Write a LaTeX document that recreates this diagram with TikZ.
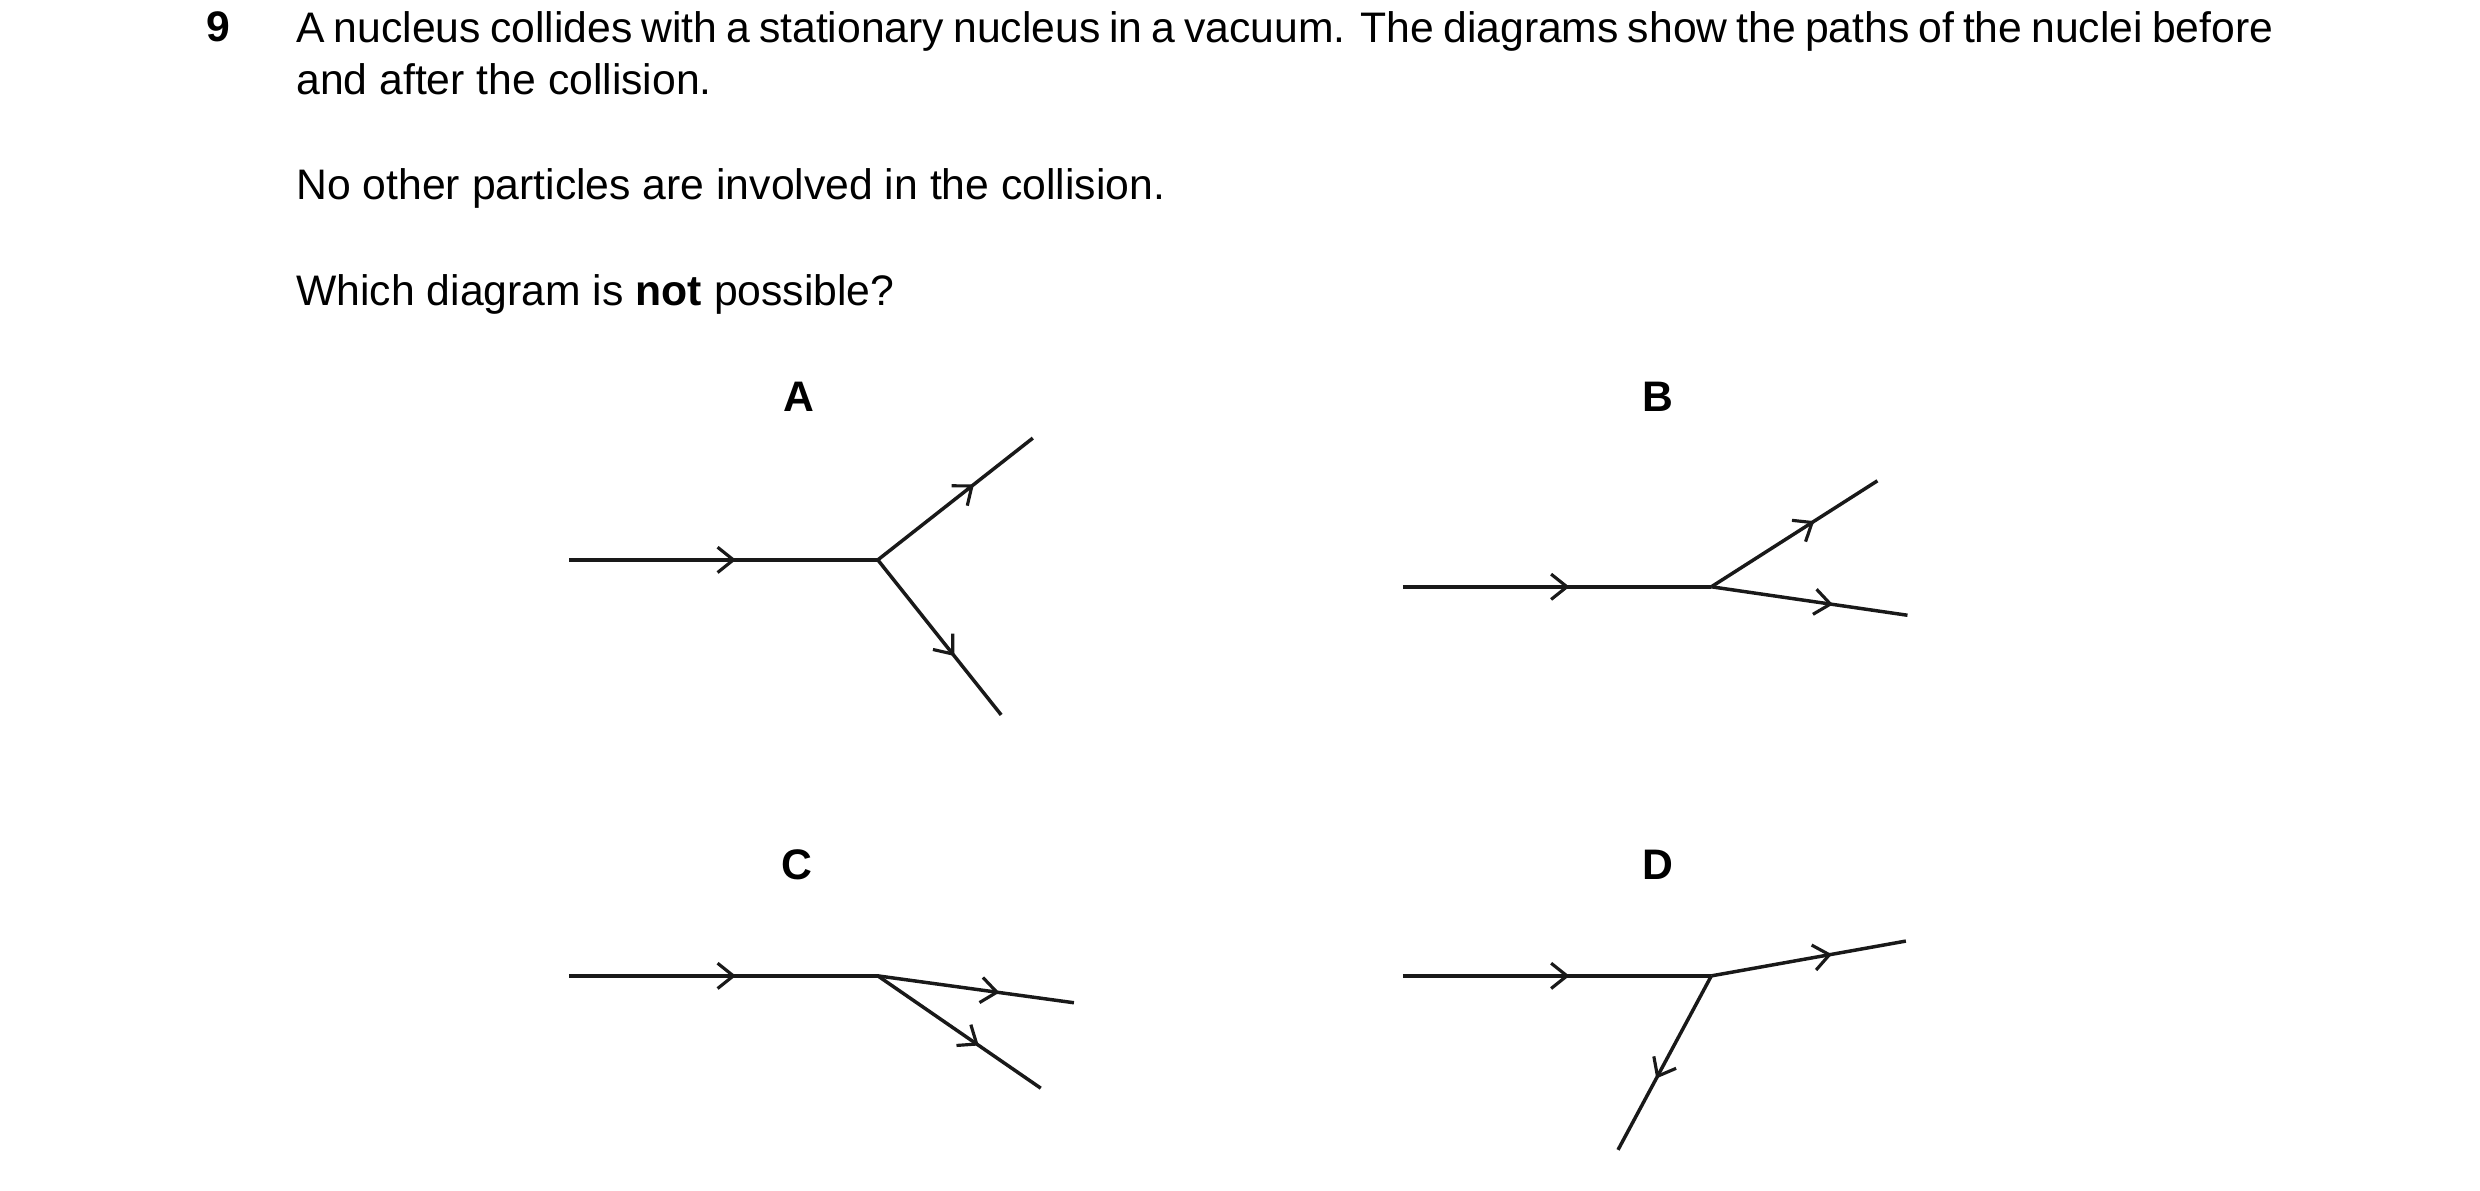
\documentclass[tikz,border=0pt]{standalone}
\usepackage{fontspec}
\setmainfont{Liberation Sans}
\usetikzlibrary{decorations.markings,arrows.meta}
\begin{document}
\begin{tikzpicture}[x=0.5pt,y=-0.5pt,
  path/.style={line width=1.1pt,draw=black!90},
  am/.style={postaction={decorate},decoration={markings,mark=at position #1 with {\arrow{Straight Barb[length=5pt,width=8pt,line width=1pt]}}}},
  am/.default=0.62,
  lab/.style={font=\fontsize{13.5}{16.5}\selectfont\bfseries},
  txt/.style={font=\fontsize{13.5}{16.5}\selectfont,anchor=north west,inner sep=0}]
\useasboundingbox (0,0) rectangle (1568,753);
\node[txt,font=\fontsize{13.5}{16.5}\selectfont\bfseries] (q) at (130,7) {9};
\node[txt,text width=625pt,align=justify] (p1) at (187,7) {A nucleus collides with a stationary nucleus in a vacuum. The diagrams show the paths of the nuclei before and after the collision.};
\node[txt] (p2) at (187,106) {No other particles are involved in the collision.};
\node[txt] (p3) at (187,173) {Which diagram is \textbf{not} possible?};
\node[lab] (lA) at (505,251) {A};
\node[lab] (lB) at (1048,251) {B};
\node[lab] (lC) at (504,547) {C};
\node[lab] (lD) at (1048,547) {D};
% A
\coordinate (a0) at (360,354); \coordinate (a1) at (555,354);
\coordinate (a2) at (653,277); \coordinate (a3) at (633,452);
\draw[path,am=0.54] (a0) -- (a1);
\draw[path,am] (a1) -- (a2);
\draw[path,am] (a1) -- (a3);
% B
\coordinate (b0) at (887,371); \coordinate (b1) at (1082,371);
\coordinate (b2) at (1187,304); \coordinate (b3) at (1206,389);
\draw[path,am=0.54] (b0) -- (b1);
\draw[path,am] (b1) -- (b2);
\draw[path,am] (b1) -- (b3);
% C
\coordinate (c0) at (360,617); \coordinate (c1) at (555,617);
\coordinate (c2) at (679,634); \coordinate (c3) at (658,688);
\draw[path,am=0.54] (c0) -- (c1);
\draw[path,am] (c1) -- (c2);
\draw[path,am] (c1) -- (c3);
% D
\coordinate (d0) at (887,617); \coordinate (d1) at (1082,617);
\coordinate (d2) at (1205,595); \coordinate (d3) at (1023,727);
\draw[path,am=0.54] (d0) -- (d1);
\draw[path,am] (d1) -- (d2);
\draw[path,am=0.59] (d1) -- (d3);
\end{tikzpicture}
\end{document}
